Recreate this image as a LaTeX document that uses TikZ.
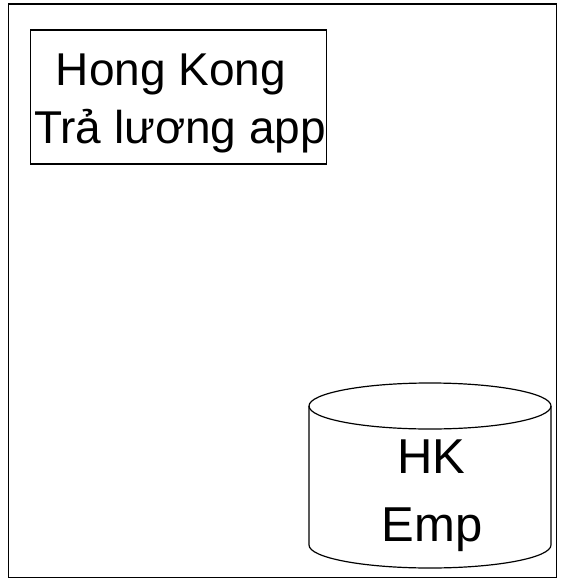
\documentclass[tikz,border=0pt]{standalone}
\usepackage{fontspec}
\setmainfont{Liberation Sans}
\begin{document}
\begin{tikzpicture}[x=1pt,y=-1pt,
  frame/.style={draw=black,line width=1.6pt},
  boxline/.style={draw=black,line width=1.2pt},
  bigtext/.style={inner sep=0pt,anchor=base,font=\fontsize{46}{55}\selectfont},
  dbtext/.style={inner sep=0pt,anchor=base,font=\fontsize{49}{58}\selectfont}]
\useasboundingbox (0,0) rectangle (560,580);
\draw[frame] (8.5,4) rectangle (556.5,577.5);
% app box
\node[boxline,minimum width=296pt,minimum height=134pt,inner sep=0pt] (app) at (178.5,97) {};
\node[bigtext] (l1) at (171,86) {Hong Kong};
\node[bigtext] (l2) at (180,144) {Trả lương app};
% database cylinder
\coordinate (db) at (430,475);
\draw[boxline,fill=white] (309,406) -- (309,545) arc[start angle=180,end angle=0,x radius=121,y radius=23] -- (551,406);
\draw[boxline] (430,406) ellipse[x radius=121,y radius=23];
\node[dbtext] (d1) at (431.5,473) {HK};
\node[dbtext] (d2) at (432,541) {Emp};
\end{tikzpicture}
\end{document}
